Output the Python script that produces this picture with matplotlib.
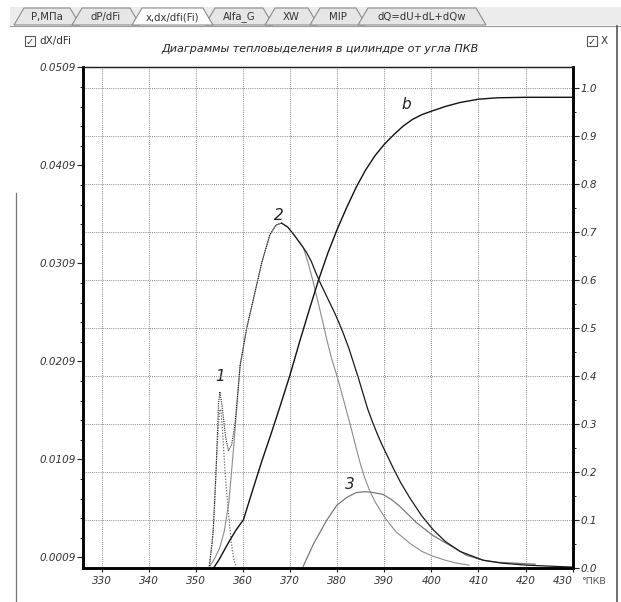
import matplotlib
matplotlib.use("Agg")
import matplotlib.pyplot as plt
from matplotlib.patches import Rectangle, Polygon
from matplotlib.ticker import FixedLocator
import numpy as np

# ---------------- data ----------------
# cumulative burned fraction X (right axis)
x_b = [353.8, 355.0, 356.0, 357.2, 358.5, 360.1, 362.0, 364.0, 366.0, 368.0, 370.0, 372.0,
       374.0, 376.0, 378.0, 380.0, 382.0, 384.0, 386.0, 388.0, 390.0, 392.0, 394.0, 396.0,
       398.0, 400.0, 403.0, 406.0, 410.0, 414.0, 420.0, 430.0]
X_b = [0.0, 0.018, 0.036, 0.057, 0.078, 0.100, 0.160, 0.222, 0.280, 0.340, 0.402, 0.470,
       0.535, 0.598, 0.655, 0.705, 0.750, 0.792, 0.828, 0.858, 0.882, 0.902, 0.920, 0.934,
       0.944, 0.951, 0.961, 0.969, 0.976, 0.979, 0.980, 0.980]

# total heat release rate dX/dFi (left axis)
x_tot = [352.9, 353.7, 354.3, 354.8, 355.1, 355.6, 356.3, 356.9, 357.6, 358.3, 359.4, 360.8,
         362.0, 364.0, 365.7, 367.0, 368.2, 369.5, 371.0, 372.8, 373.5, 374.5, 375.5, 376.5,
         377.5, 378.5, 379.5, 380.5, 381.5, 382.5, 383.5, 384.5, 385.5, 386.5, 387.5, 388.5,
         389.5, 390.5, 392.0, 393.5, 395.5, 398.0, 400.4, 403.0, 406.1, 411.0, 415.0, 420.2,
         425.0, 430.0]
y_tot = [0.0, 0.0037, 0.0100, 0.0165, 0.0178, 0.0162, 0.0132, 0.0118, 0.0124, 0.0145, 0.0205, 0.0243,
         0.0268, 0.0310, 0.0338, 0.0348, 0.0350, 0.0346, 0.0337, 0.0325, 0.0320, 0.0311, 0.0299, 0.0288,
         0.0278, 0.0268, 0.0258, 0.0247, 0.0235, 0.0222, 0.0207, 0.0192, 0.0176, 0.0160, 0.0147, 0.0135,
         0.0124, 0.0114, 0.0099, 0.0085, 0.0069, 0.0051, 0.0037, 0.0025, 0.0015, 0.0006, 0.0003, 0.0001,
         0.0000, -0.0001]

# component 1 (premixed flash)
x_1 = [352.8, 353.5, 354.0, 354.5, 355.0, 355.3, 355.7, 356.2, 356.9, 357.5, 358.0, 358.5]
y_1 = [0.0, 0.0025, 0.0065, 0.0120, 0.0158, 0.0160, 0.0135, 0.0095, 0.0055, 0.0025, 0.0008, 0.0]

# component 2 (main combustion)
x_2 = [353.0, 354.0, 355.0, 356.0, 357.0, 358.0, 359.4, 360.8, 362.0, 364.0, 365.7, 367.0, 368.2,
       369.5, 371.0, 372.8, 373.8, 374.8, 375.8, 376.8, 377.8, 378.8, 379.9, 381.0, 382.0, 383.0,
       384.0, 385.0, 386.0, 387.0, 388.0, 389.0, 390.5, 392.5, 395.5, 398.0, 400.4, 403.0, 405.4, 408.0]
y_2 = [0.0, 0.0008, 0.0018, 0.0035, 0.0065, 0.0120, 0.0205, 0.0243, 0.0268, 0.0310, 0.0338, 0.0348, 0.0350,
       0.0346, 0.0337, 0.0325, 0.0310, 0.0292, 0.0272, 0.0252, 0.0231, 0.0212, 0.0195, 0.0176, 0.0158, 0.0140,
       0.0121, 0.0103, 0.0088, 0.0076, 0.0066, 0.0058, 0.0047, 0.0035, 0.0023, 0.0015, 0.0010, 0.0006, 0.0003,
       0.0001]

# component 3 (late combustion)
x_3 = [372.8, 375.0, 377.8, 379.9, 382.0, 384.0, 385.9, 387.8, 389.8, 391.5, 393.3, 396.9, 400.4,
       404.0, 407.5, 411.0, 414.0, 418.1, 422.0]
y_3 = [0.0, 0.0023, 0.0047, 0.0062, 0.0070, 0.0075, 0.0076, 0.0075, 0.0073, 0.0068, 0.0061, 0.0044, 0.0031,
       0.0021, 0.0011, 0.0006, 0.0004, 0.0003, 0.0002]

x_ticks = [330, 340, 350, 360, 370, 380, 390, 400, 410, 420, 430]
left_ticks = [0.0009, 0.0109, 0.0209, 0.0309, 0.0409, 0.0509]
left_labels = ["0.0009", "0.0109", "0.0209", "0.0309", "0.0409", "0.0509"]
right_ticks = [0.0, 0.1, 0.2, 0.3, 0.4, 0.5, 0.6, 0.7, 0.8, 0.9, 1.0]

tabs = ["P,МПа", "dP/dFi", "x,dx/dfi(Fi)", "Alfa_G", "XW", "MIP", "dQ=dU+dL+dQw"]
title = "Диаграммы тепловыделения в цилиндре от угла ПКВ"

# ---------------- figure ----------------
W, H = 621, 602
fig = plt.figure(figsize=(W / 100, H / 100), dpi=100)

# overlay for window chrome (pixel coords)
bg = fig.add_axes([0, 0, 1, 1], zorder=0)
bg.set_xlim(0, W)
bg.set_ylim(H, 0)
bg.axis("off")

bg.add_patch(Rectangle((10, 7), W - 10, 18, facecolor="#ececec", edgecolor="none"))
tab_bounds = [(14, 72), (72, 132), (132, 205), (205, 265), (265, 310), (310, 358), (358, 478)]
for i, ((a, b), lab) in enumerate(zip(tab_bounds, tabs)):
    active = (i == 2)
    poly = Polygon([(a, 25), (a + 10, 8), (b - 2, 8), (b + 8, 25)],
                   closed=True, facecolor="white" if active else "#e6e6e6",
                   edgecolor="#8c8c8c", lw=0.8, zorder=3 if active else 2)
    bg.add_patch(poly)
    bg.text((a + b) / 2 + 4, 17, lab, fontsize=7.3, color="#333333",
            ha="center", va="center", zorder=4)
bg.plot([10, W], [25.5, 25.5], color="#9a9a9a", lw=0.8, zorder=1)
bg.plot([617, 617], [26, H], color="#555555", lw=1.2)
bg.plot([16, 16], [193, H], color="#777777", lw=0.9)

# checkboxes
for (cx, lab) in [(25, "dX/dFi"), (587, "X")]:
    bg.add_patch(Rectangle((cx, 36), 10, 10, facecolor="white", edgecolor="#555555", lw=0.8))
    bg.text(cx + 5, 41.5, "✓", fontsize=7, ha="center", va="center", color="#333333")
    bg.text(cx + 14, 41, lab, fontsize=7.5, ha="left", va="center", color="#333333")

bg.text(320, 48.5, title, fontsize=8, style="italic", ha="center", va="center", color="#222222")
bg.text(581, 582, "°ПКВ", fontsize=6.8, ha="left", va="center", color="#555555")

# ---------------- main axes ----------------
left, right, top, bottom = 83.3, 572.7, 67.3, 567.7
ax = fig.add_axes([left / W, 1 - bottom / H, (right - left) / W, (bottom - top) / H], zorder=1)
ax.set_facecolor("white")
ax2 = ax.twinx()

ax.set_xlim(326.1, 430)
ax.set_ylim(-0.00016, 0.0509)
ax2.set_ylim(0.0, 1.0425)

grid_kw = dict(color="#8a8a8a", lw=0.7, linestyle=(0, (1, 1.2)))
ax.xaxis.set_major_locator(FixedLocator(x_ticks))
ax.grid(True, axis="x", **grid_kw)
ax2.yaxis.set_major_locator(FixedLocator(right_ticks))
ax2.yaxis.set_minor_locator(FixedLocator(list(np.arange(0.05, 1.05, 0.1))))
ax2.grid(True, axis="y", **grid_kw)

ax.yaxis.set_major_locator(FixedLocator(left_ticks))
ax.set_yticklabels(left_labels)
ax.yaxis.set_minor_locator(FixedLocator([0.0009 + 0.002 * k for k in range(26)]))
ax.set_xticklabels([str(t) for t in x_ticks])
ax2.set_yticklabels(["%.1f" % t for t in right_ticks])

for a in (ax, ax2):
    a.tick_params(axis="both", which="major", direction="out", length=4, width=0.8,
                  colors="#222222", labelsize=7.5, labelcolor="#333333", pad=1.5)
    a.tick_params(axis="both", which="minor", direction="out", length=2.5, width=0.7, colors="#222222")
for lbl in ax.get_xticklabels() + ax.get_yticklabels() + ax2.get_yticklabels():
    lbl.set_style("italic")
ax.tick_params(axis="x", length=3, pad=3)
ax.tick_params(axis="x", which="both", top=False)
xl = ax.get_xticklabels()
xl[-1].set_horizontalalignment("right")
xl[-1].set_x(430)

for a in (ax, ax2):
    for s in ("left", "bottom", "right"):
        a.spines[s].set_linewidth(1.8)
        a.spines[s].set_color("black")
    a.spines["top"].set_linewidth(0.9)
    a.spines["top"].set_color("#222222")

# ---------------- curves ----------------
ax.plot(x_1, y_1, color="#6a6a6a", lw=0.9, linestyle=(0, (1, 1.3)), zorder=3)
ax.plot(x_2, y_2, color="#8c8c8c", lw=0.8, zorder=3)
ax.plot(x_3, y_3, color="#7a7a7a", lw=0.9, zorder=3)
xt = np.array(x_tot)
yt = np.array(y_tot)
m1 = xt <= 368.2
m2 = xt >= 368.2
ax.plot(xt[m1], yt[m1], color="#222222", lw=0.8, linestyle=(0, (1, 1)), zorder=4)
ax.plot(xt[m2], yt[m2], color="#1a1a1a", lw=0.9, zorder=4)
ax2.plot(x_b, X_b, color="#111111", lw=1.0, zorder=4)

lab_kw = dict(fontsize=11, style="italic", color="#222222", ha="center", va="center")
ax.text(355.1, 0.0194, "1", **lab_kw)
ax.text(367.7, 0.0358, "2", **lab_kw)
ax.text(382.6, 0.0083, "3", **lab_kw)
ax2.text(394.7, 0.964, "b", **lab_kw)

fig.savefig("out.png", dpi=100)
